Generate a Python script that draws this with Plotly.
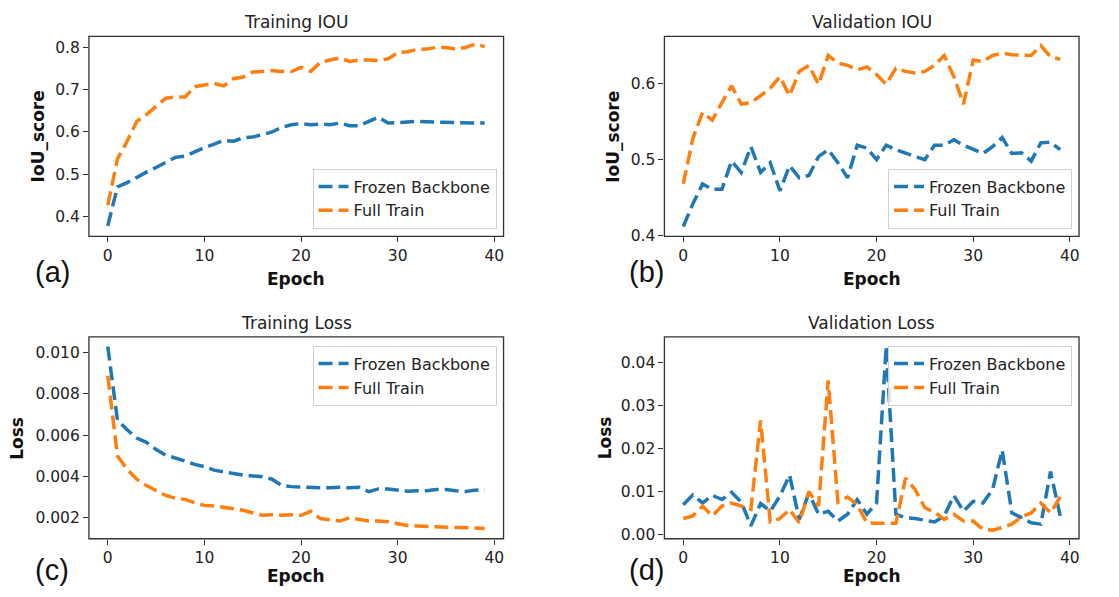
import plotly.graph_objects as go

W, H = 1119, 597

epochs = list(range(40))

train_iou_frozen = [0.378, 0.470, 0.480, 0.493, 0.505, 0.516, 0.528, 0.540, 0.543, 0.554,
                    0.563, 0.571, 0.580, 0.578, 0.586, 0.588, 0.594, 0.600, 0.611, 0.617,
                    0.620, 0.617, 0.619, 0.617, 0.621, 0.615, 0.615, 0.624, 0.635, 0.621,
                    0.623, 0.624, 0.625, 0.624, 0.623, 0.623, 0.623, 0.622, 0.621, 0.621]
train_iou_full = [0.427, 0.536, 0.578, 0.625, 0.641, 0.660, 0.680, 0.683, 0.683, 0.707,
                  0.711, 0.715, 0.709, 0.726, 0.730, 0.742, 0.743, 0.745, 0.743, 0.743,
                  0.753, 0.743, 0.765, 0.769, 0.775, 0.767, 0.770, 0.770, 0.769, 0.773,
                  0.788, 0.790, 0.795, 0.796, 0.800, 0.800, 0.796, 0.800, 0.808, 0.802]

val_iou_frozen = [0.412, 0.442, 0.468, 0.461, 0.461, 0.498, 0.483, 0.517, 0.483, 0.496,
                  0.459, 0.492, 0.476, 0.479, 0.504, 0.513, 0.496, 0.476, 0.519, 0.515,
                  0.500, 0.519, 0.513, 0.508, 0.504, 0.500, 0.519, 0.519, 0.526, 0.519,
                  0.514, 0.508, 0.517, 0.529, 0.508, 0.509, 0.498, 0.522, 0.523, 0.513]
val_iou_full = [0.468, 0.528, 0.562, 0.552, 0.575, 0.597, 0.573, 0.575, 0.584, 0.594,
                0.609, 0.584, 0.616, 0.624, 0.599, 0.637, 0.627, 0.624, 0.618, 0.622,
                0.612, 0.599, 0.620, 0.616, 0.614, 0.616, 0.624, 0.637, 0.609, 0.573,
                0.631, 0.629, 0.637, 0.640, 0.638, 0.637, 0.637, 0.650, 0.635, 0.632]

train_loss_frozen = [0.01030, 0.00673, 0.00626, 0.00586, 0.00565, 0.00530, 0.00503, 0.00490, 0.00474, 0.00458,
                     0.00447, 0.00430, 0.00421, 0.00414, 0.00406, 0.00402, 0.00398, 0.00386, 0.00355, 0.00350,
                     0.00348, 0.00342, 0.00344, 0.00344, 0.00347, 0.00344, 0.00347, 0.00326, 0.00339, 0.00339,
                     0.00333, 0.00328, 0.00330, 0.00330, 0.00336, 0.00336, 0.00330, 0.00326, 0.00333, 0.00336]
train_loss_full = [0.00888, 0.00500, 0.00434, 0.00386, 0.00355, 0.00331, 0.00307, 0.00294, 0.00288, 0.00272,
                   0.00259, 0.00256, 0.00251, 0.00243, 0.00235, 0.00222, 0.00211, 0.00214, 0.00211, 0.00214,
                   0.00211, 0.00230, 0.00195, 0.00189, 0.00183, 0.00199, 0.00191, 0.00183, 0.00183, 0.00180,
                   0.00170, 0.00161, 0.00159, 0.00156, 0.00154, 0.00152, 0.00151, 0.00151, 0.00149, 0.00147]

val_loss_frozen = [0.0070, 0.0093, 0.0074, 0.0092, 0.0082, 0.0099, 0.0076, 0.0021, 0.0073, 0.0055,
                   0.0090, 0.0139, 0.0036, 0.0097, 0.0048, 0.0055, 0.0032, 0.0048, 0.0082, 0.0048,
                   0.0074, 0.0438, 0.0048, 0.0040, 0.0038, 0.0034, 0.0030, 0.0044, 0.0091, 0.0055,
                   0.0078, 0.0074, 0.0105, 0.0197, 0.0051, 0.0040, 0.0028, 0.0025, 0.0147, 0.0044]
val_loss_full = [0.0038, 0.0044, 0.0067, 0.0044, 0.0067, 0.0074, 0.0067, 0.0059, 0.0266, 0.0030,
                 0.0038, 0.0059, 0.0028, 0.0101, 0.0067, 0.0359, 0.0076, 0.0088, 0.0070, 0.0028,
                 0.0027, 0.0027, 0.0027, 0.0132, 0.0105, 0.0063, 0.0053, 0.0036, 0.0048, 0.0032,
                 0.0032, 0.0013, 0.0011, 0.0017, 0.0025, 0.0042, 0.0051, 0.0074, 0.0051, 0.0088]

titles = ["Training IOU", "Validation IOU", "Training Loss", "Validation Loss"]
ylabels = ["IoU_score", "IoU_score", "Loss", "Loss"]
panel_tags = ["(a)", "(b)", "(c)", "(d)"]
series_names = ["Frozen Backbone", "Full Train"]
x_tick_vals = [0, 10, 20, 30, 40]
y_tick_vals = [
    [0.4, 0.5, 0.6, 0.7, 0.8],
    [0.4, 0.5, 0.6],
    [0.002, 0.004, 0.006, 0.008, 0.010],
    [0.00, 0.01, 0.02, 0.03, 0.04],
]
y_tick_fmt = [".1f", ".1f", ".3f", ".2f"]
y_ranges = [[0.353, 0.826], [0.399, 0.662], [0.00097, 0.01077], [-0.0009, 0.046]]

panels = [
    (train_iou_frozen, train_iou_full),
    (val_iou_frozen, val_iou_full),
    (train_loss_frozen, train_loss_full),
    (val_loss_frozen, val_loss_full),
]

BLUE = "#1f77b4"
ORANGE = "#ff7f0e"
FONT = "DejaVu Sans"

# axes boxes in pixels: (left, top, right, bottom)
boxes = [(89, 37, 504, 240), (665, 37, 1080, 240),
         (89, 342, 504, 547), (665, 342, 1080, 547)]
# legend placement: (right px, top/bottom px, anchor)
legend_pos = [(497, 232, "bottom"), (1073, 232, "bottom"),
              (497, 351, "top"), (1073, 351, "top")]
ylabel_x = [38, 614, 17, 605]
tag_pos = [(53, 276), (647, 276), (52, 579), (647, 579)]
title_y = [22, 22, 328, 328]
xlabel_y = [283, 283, 585, 585]


def px(x):
    return x / W


def py(y):
    return 1 - y / H


fig = go.Figure()
annotations = []
shapes = []

for i, (frozen, full) in enumerate(panels):
    n = i + 1
    xa = "x" if n == 1 else f"x{n}"
    ya = "y" if n == 1 else f"y{n}"
    leg = "legend" if n == 1 else f"legend{n}"
    for vals, name, col in ((frozen, series_names[0], BLUE), (full, series_names[1], ORANGE)):
        fig.add_trace(go.Scatter(
            x=epochs, y=vals, mode="lines", name=name,
            line=dict(color=col, width=3.5, dash="14px,6px"),
            xaxis=xa, yaxis=ya, legend=leg, showlegend=True,
        ))
    l, t, r, b = boxes[i]
    ax_common = dict(showline=False,
                     ticks="outside", ticklen=5, tickwidth=1.3, tickcolor="#333",
                     showgrid=False, zeroline=False,
                     tickfont=dict(family=FONT, size=15.5, color="#222"))
    fig.layout[f"xaxis{'' if n == 1 else n}"] = dict(
        domain=[px(l), px(r)], anchor=ya, range=[-1.95, 40.95],
        tickvals=x_tick_vals, **ax_common)
    fig.layout[f"yaxis{'' if n == 1 else n}"] = dict(
        domain=[py(b), py(t)], anchor=xa, range=y_ranges[i],
        tickvals=y_tick_vals[i], tickformat=y_tick_fmt[i], **ax_common)

    shapes.append(dict(type="rect", xref=f"{xa} domain", yref=f"{ya} domain",
                       x0=0, x1=1, y0=0, y1=1, line=dict(color="#333", width=1.3),
                       layer="above"))

    lx, ly, anc = legend_pos[i]
    fig.layout[leg] = dict(
        x=px(lx), y=py(ly), xanchor="right", yanchor=anc,
        xref="paper", yref="paper",
        bgcolor="rgba(255,255,255,0.8)", bordercolor="#d0d0d0", borderwidth=1,
        font=dict(family=FONT, size=16, color="#222"),
        itemwidth=30, tracegroupgap=0,
    )

    cx = (l + r) / 2
    annotations.append(dict(text=titles[i], x=px(cx), y=py(title_y[i]), xref="paper", yref="paper",
                            xanchor="center", yanchor="middle", showarrow=False,
                            font=dict(family=FONT, size=17, color="#222")))
    annotations.append(dict(text="<b>Epoch</b>", x=px(cx), y=py(xlabel_y[i]), xref="paper", yref="paper",
                            xanchor="center", yanchor="middle", showarrow=False,
                            font=dict(family=FONT, size=17, color="#111")))
    annotations.append(dict(text=f"<b>{ylabels[i]}</b>", x=px(ylabel_x[i]), y=py((t + b) / 2),
                            xref="paper", yref="paper", textangle=-90,
                            xanchor="center", yanchor="middle", showarrow=False,
                            font=dict(family=FONT, size=17, color="#111")))
    tx, ty = tag_pos[i]
    annotations.append(dict(text=panel_tags[i], x=px(tx), y=py(ty), xref="paper", yref="paper",
                            xanchor="center", yanchor="middle", showarrow=False,
                            font=dict(family="Liberation Sans", size=29, color="#111")))

fig.update_layout(
    width=W, height=H,
    margin=dict(l=0, r=0, t=0, b=0),
    paper_bgcolor="white", plot_bgcolor="white",
    annotations=annotations,
    shapes=shapes,
    showlegend=True,
)

fig.write_html("out.html", config={"displayModeBar": False},
               post_script="document.body.style.margin='0px';")
